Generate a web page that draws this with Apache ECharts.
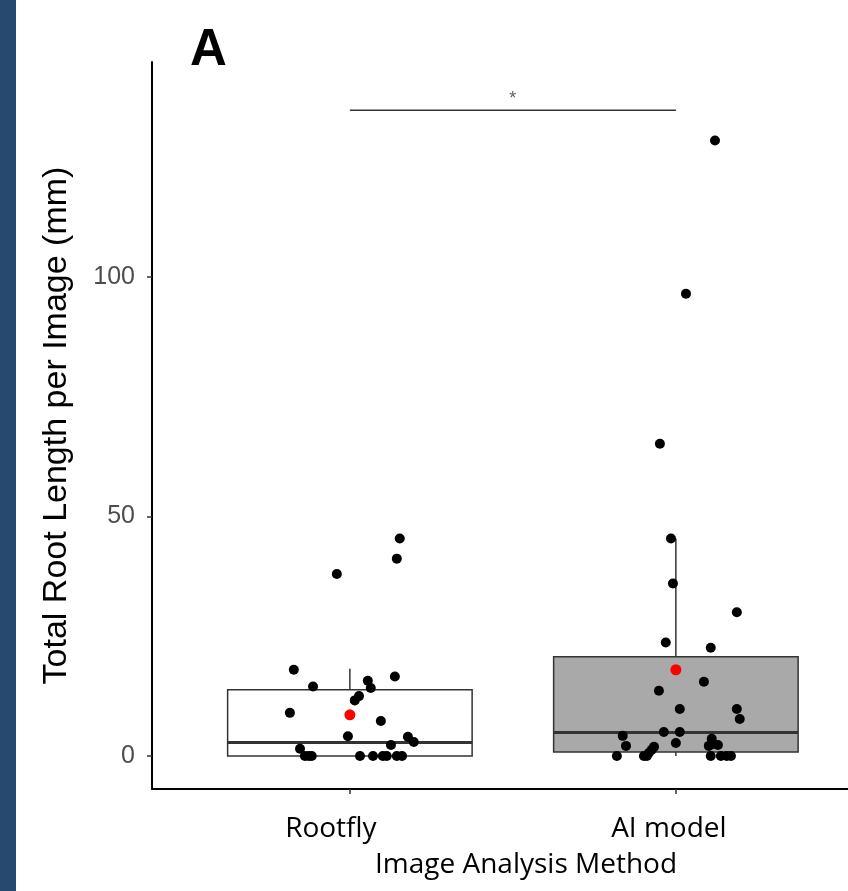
<!DOCTYPE html>
<html>
<head>
<meta charset="utf-8">
<script src="https://cdn.jsdelivr.net/npm/echarts@6/dist/echarts.min.js"></script>
<style>
  html, body { margin: 0; padding: 0; background: #fff; }
  #chart { width: 848px; height: 891px; }
</style>
</head>
<body>
<div id="chart"></div>
<script>
// categories and box statistics
const categories = ['Rootfly', 'AI model'];
const boxPos = [1, 2];
const whiskerLow = [0, 0];
const q1 = [0, 0.8];
const median = [2.8, 4.9];
const q3 = [13.8, 20.7];
const whiskerHigh = [18.2, 45.4];
const means = [8.6, 18.0];

// jittered points: x position (category units) and value
const rootflyX = [1.153, 1.144, 0.960, 0.828, 0.887, 1.055, 1.064, 1.138, 1.028, 1.015,
  0.816, 1.095, 0.994, 1.178, 1.196, 0.847, 1.126, 0.862, 0.874, 0.883,
  1.031, 1.071, 1.101, 1.113, 1.144, 1.160];
const rootflyY = [45.4, 41.2, 38.0, 18.0, 14.5, 15.7, 14.2, 16.6, 12.5, 11.6,
  9.0, 7.3, 4.1, 4.0, 2.9, 1.5, 2.3, 0, 0, 0,
  0, 0, 0, 0, 0, 0];
const aiX = [2.120, 2.031, 1.951, 1.985, 1.991, 2.187, 1.969, 2.107, 2.086, 1.948,
  2.012, 2.187, 2.196, 1.963, 2.012, 1.837, 1.847, 2.000, 1.933, 1.926,
  1.917, 2.110, 2.101, 2.129, 2.113, 1.819, 1.902, 1.911, 2.107, 2.138,
  2.156, 2.169];
const aiY = [128.5, 96.5, 65.2, 45.4, 36.0, 30.0, 23.7, 22.6, 15.5, 13.6,
  9.8, 9.8, 7.7, 5.0, 5.0, 4.2, 2.1, 2.7, 1.9, 1.3,
  0.6, 3.6, 2.1, 2.3, 2.5, 0, 0, 0, 0, 0,
  0, 0];

// significance bracket
const sigFrom = 1, sigTo = 2, sigY = 134.8, sigLabel = '*';

const yTicks = [0, 50, 100];

const boxFill = ['#ffffff', '#a9a9a9'];
const boxHalf = 0.375;

const boxData = boxPos.map((p, i) => [p, whiskerLow[i], q1[i], median[i], q3[i], whiskerHigh[i]]);
const pointData = rootflyX.map((x, i) => [x, rootflyY[i]])
  .concat(aiX.map((x, i) => [x, aiY[i]]));
const meanData = boxPos.map((p, i) => [p, means[i]]);

const chart = echarts.init(document.getElementById('chart'));

chart.setOption({
  animation: false,
  backgroundColor: '#ffffff',
  grid: { left: 152, right: 0, top: 62, bottom: 102 },
  xAxis: {
    type: 'value',
    min: 0.393,
    max: 2.528,
    splitLine: { show: false },
    axisLine: { onZero: false, lineStyle: { color: '#000', width: 2 } },
    axisTick: { customValues: boxPos, length: 5, lineStyle: { color: '#333', width: 1.5 } },
    axisLabel: {
      customValues: boxPos,
      margin: 26,
      formatter: v => v === 1 ? '{r|' + categories[0] + '}' : '{a|' + categories[1] + '}',
      rich: {
        r: { fontFamily: 'Open Sans', fontSize: 28, color: '#000', padding: [0, 38, 0, 0] },
        a: { fontFamily: 'Open Sans', fontSize: 28, color: '#000', padding: [0, 14, 0, 0] }
      }
    },
    name: 'Image Analysis Method',
    nameLocation: 'middle',
    nameGap: 62,
    nameTextStyle: { fontFamily: 'Open Sans', fontSize: 28, color: '#000', padding: [0, 0, 0, 52] }
  },
  yAxis: {
    type: 'value',
    min: -6.9,
    max: 144.9,
    splitLine: { show: false },
    axisLine: { show: true, onZero: false, lineStyle: { color: '#000', width: 2 } },
    axisTick: { show: true, customValues: yTicks, length: 5, lineStyle: { color: '#333', width: 1.5 } },
    axisLabel: {
      customValues: yTicks,
      margin: 17,
      fontFamily: 'Liberation Sans',
      fontSize: 25,
      color: '#4d4d4d'
    },
    name: 'Total Root Length per Image (mm)',
    nameLocation: 'middle',
    nameGap: 78,
    nameTextStyle: { fontFamily: 'Liberation Sans', fontSize: 34, color: '#000' }
  },
  graphic: [
    { type: 'rect', left: 0, top: 0, shape: { width: 16, height: 891 }, style: { fill: '#264a6f' } },
    {
      type: 'text', x: 190, y: 51,
      style: { text: 'A', font: 'bold 51px "Liberation Sans"', fill: '#000', verticalAlign: 'middle' }
    }
  ],
  series: [
    {
      type: 'custom',
      data: boxData,
      z: 1,
      renderItem: (params, api) => {
        const c = api.value(0);
        const lo = api.coord([c, api.value(1)]);
        const b1 = api.coord([c - boxHalf, api.value(2)]);
        const md = api.coord([c, api.value(3)]);
        const b3 = api.coord([c + boxHalf, api.value(4)]);
        const hi = api.coord([c, api.value(5)]);
        const stroke = { stroke: '#333333', lineWidth: 1.5 };
        return {
          type: 'group',
          children: [
            { type: 'line', shape: { x1: hi[0], y1: hi[1], x2: hi[0], y2: b3[1] }, style: stroke },
            { type: 'line', shape: { x1: lo[0], y1: lo[1], x2: lo[0], y2: b1[1] }, style: stroke },
            {
              type: 'rect',
              shape: { x: b1[0], y: b3[1], width: b3[0] - b1[0], height: b1[1] - b3[1] },
              style: { fill: boxFill[params.dataIndex], stroke: '#333333', lineWidth: 1.5 }
            },
            { type: 'line', shape: { x1: b1[0], y1: md[1], x2: b3[0], y2: md[1] }, style: { stroke: '#333333', lineWidth: 3 } }
          ]
        };
      }
    },
    {
      type: 'scatter',
      data: pointData,
      symbol: 'circle',
      symbolSize: 10,
      itemStyle: { color: '#000', opacity: 1 },
      z: 3
    },
    {
      type: 'scatter',
      data: meanData,
      symbol: 'circle',
      symbolSize: 11,
      itemStyle: { color: '#ff0000', opacity: 1 },
      z: 4
    },
    {
      type: 'line',
      data: [[sigFrom, sigY], [sigTo, sigY]],
      symbol: 'none',
      lineStyle: { color: '#333333', width: 1.5 },
      z: 2
    },
    {
      type: 'scatter',
      data: [[(sigFrom + sigTo) / 2, sigY]],
      symbolSize: 0,
      label: {
        show: true,
        formatter: sigLabel,
        position: 'top',
        distance: 2,
        fontFamily: 'Liberation Sans',
        fontSize: 18,
        color: '#333'
      },
      z: 2
    }
  ]
});
</script>
</body>
</html>
